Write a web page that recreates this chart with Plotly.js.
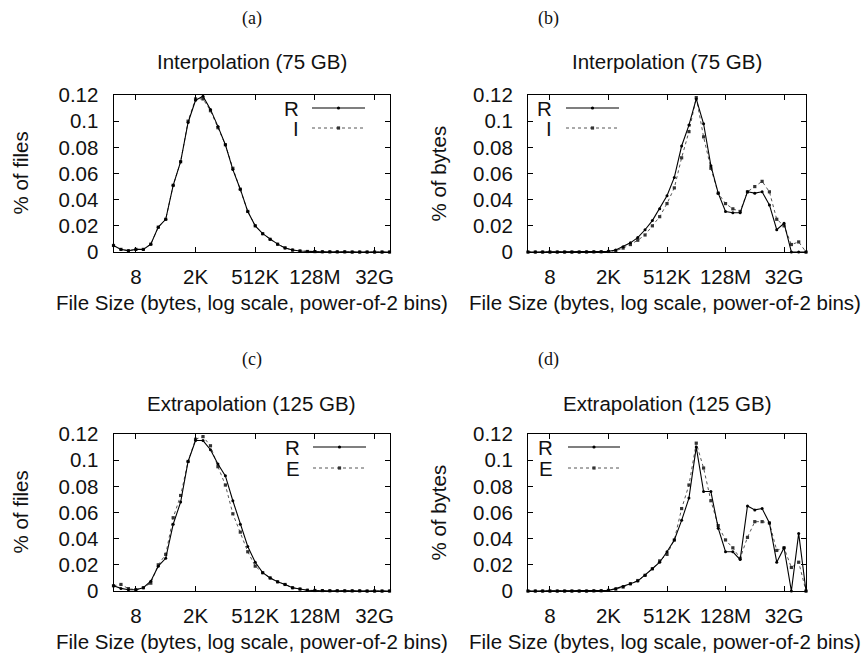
<!DOCTYPE html>
<html><head><meta charset="utf-8">
<script src="https://cdn.plot.ly/plotly-3.0.1.min.js"></script>
<style>html,body{margin:0;padding:0;background:#fff}</style>
</head><body><div id="chart" style="width:865px;height:656px"></div>
<script>
// bin index = log2(file size)
const binsLeft = [0,1,2,3,4,5,6,7,8,9,10,11,12,13,14,15,16,17,18,19,20,21,22,23,24,25,26,27,28,29,30,31,32,33,34,35,36,37];
const binsRight = [0,1,2,3,4,5,6,7,8,9,10,11,12,13,14,15,16,17,18,19,20,21,22,23,24,25,26,27,28,29,30,31,32,33,34,35,36,37,38];
const tickBins = [3,11,19,27,35];
const tickLabels = ["8","2K","512K","128M","32G"];
const yTickVals = [0,0.02,0.04,0.06,0.08,0.1,0.12];
const yTickText = ["0","0.02","0.04","0.06","0.08","0.1","0.12"];

// (a) Interpolation, % of files
const aR = [0.005,0.002,0.001,0.002,0.002,0.006,0.019,0.025,0.051,0.069,0.099,0.116,0.119,0.109,0.096,0.082,0.063,0.048,0.031,0.020,0.014,0.0097,0.006,0.003,0.0015,0.0008,0.0004,0.0003,0.0002,0.0001,0.0001,0.0001,0,0,0,0,0,0];
const aI = [0.005,0.002,0.001,0.002,0.002,0.006,0.019,0.025,0.051,0.069,0.100,0.117,0.117,0.108,0.095,0.082,0.064,0.048,0.031,0.020,0.014,0.0097,0.006,0.0032,0.0015,0.0008,0.0004,0.0003,0.0002,0.0001,0.0001,0.0001,0,0,0,0,0,0];
// (b) Interpolation, % of bytes
const bR = [0,0,0,0,0,0,0,0,0.0001,0.0001,0.0002,0.0005,0.0015,0.004,0.007,0.011,0.017,0.024,0.033,0.043,0.057,0.081,0.097,0.117,0.098,0.066,0.045,0.031,0.030,0.030,0.046,0.045,0.046,0.036,0.017,0.022,0,0,0];
const bI = [0,0,0,0,0,0,0,0,0,0.0001,0.0002,0.0004,0.001,0.003,0.0057,0.009,0.013,0.020,0.027,0.037,0.049,0.072,0.092,0.118,0.088,0.064,0.045,0.037,0.033,0.031,0.046,0.050,0.054,0.046,0.025,0.020,0.0057,0.0077,0];
// (c) Extrapolation, % of files
const cR = [0.004,0.002,0.001,0.001,0.0025,0.0075,0.019,0.025,0.051,0.068,0.099,0.115,0.115,0.108,0.097,0.088,0.069,0.051,0.034,0.022,0.014,0.010,0.007,0.005,0.0025,0.0015,0.0006,0.0004,0.0003,0.0002,0.0002,0.0001,0.0001,0.0001,0,0,0,0];
const cE = [0.004,0.005,0.0018,0.001,0.0025,0.006,0.020,0.028,0.056,0.073,0.099,0.116,0.118,0.111,0.095,0.081,0.059,0.045,0.030,0.019,0.014,0.010,0.007,0.005,0.0025,0.0015,0.0006,0.0004,0.0003,0.0002,0.0002,0.0001,0.0001,0.0001,0,0,0,0];
// (d) Extrapolation, % of bytes
const dR = [0,0,0,0,0,0,0,0,0,0.0001,0.0002,0.0005,0.0018,0.0035,0.0056,0.0076,0.012,0.017,0.022,0.030,0.039,0.054,0.071,0.110,0.076,0.076,0.048,0.030,0.030,0.024,0.065,0.062,0.063,0.052,0.022,0.033,0,0.044,0];
const dE = [0,0,0,0,0,0,0,0,0,0.0001,0.0002,0.0005,0.0015,0.003,0.0055,0.008,0.012,0.017,0.023,0.028,0.039,0.063,0.081,0.113,0.094,0.069,0.050,0.039,0.033,0.025,0.041,0.053,0.053,0.052,0.031,0.033,0.018,0.022,0];

const W = 865, H = 656;
const px = v => v / W, py = v => 1 - v / H;
const SANS = 'Liberation Sans, Arial, sans-serif';
const SERIF = 'Liberation Serif, DejaVu Serif, serif';
const FS = 20.5;
const INK = '#111';

function solid(x, y, xa, ya) {
  return {x, y, xaxis: xa, yaxis: ya, type: 'scatter', mode: 'lines+markers', cliponaxis: false,
    line: {color: '#000', width: 1.1}, marker: {symbol: 'circle', size: 3, color: '#000'}, showlegend: false};
}
function dotted(x, y, xa, ya) {
  return {x, y, xaxis: xa, yaxis: ya, type: 'scatter', mode: 'lines+markers', cliponaxis: false,
    line: {color: '#555', width: 1, dash: 'dot'}, marker: {symbol: 'square', size: 3.2, color: '#333'}, showlegend: false};
}

const data = [
  dotted(binsLeft, aI, 'x', 'y'), solid(binsLeft, aR, 'x', 'y'),
  dotted(binsRight, bI, 'x2', 'y2'), solid(binsRight, bR, 'x2', 'y2'),
  dotted(binsLeft, cE, 'x3', 'y3'), solid(binsLeft, cR, 'x3', 'y3'),
  dotted(binsRight, dE, 'x4', 'y4'), solid(binsRight, dR, 'x4', 'y4')
];

function xAxis(domain, maxBin, anchor) {
  return {domain, anchor, range: [0, maxBin], tickmode: 'array', tickvals: tickBins, ticktext: tickLabels,
    showline: true, linecolor: '#000', linewidth: 1, mirror: 'ticks', ticks: 'inside', ticklen: 5, tickcolor: '#000',
    showgrid: false, zeroline: false, ticklabelstandoff: 6, tickfont: {family: SANS, size: FS, color: INK}};
}
function yAxis(domain, anchor) {
  return {domain, anchor, range: [0, 0.12], tickmode: 'array', tickvals: yTickVals, ticktext: yTickText,
    showline: true, linecolor: '#000', linewidth: 1, mirror: 'ticks', ticks: 'inside', ticklen: 5, tickcolor: '#000',
    showgrid: false, zeroline: false, ticklabelstandoff: 10, tickfont: {family: SANS, size: FS, color: INK}};
}

const L = [113.5, 389.5], R = [528, 806];
const TOP = [95, 252], BOT = [434, 591];
const dom = p => [px(p[0]), px(p[1])];
const vdom = p => [py(p[1]), py(p[0])];

const ann = [];
function txt(text, x, y, opts) {
  ann.push(Object.assign({text, x: px(x), y: py(y), xref: 'paper', yref: 'paper', showarrow: false,
    xanchor: 'center', yanchor: 'middle', font: {family: SANS, size: FS, color: INK}}, opts || {}));
}
const shapes = [];
function legendRow(label, textRight, x0, x1, y, isSolid) {
  txt(label, textRight, y, {xanchor: 'right', height: 18, borderpad: 0});
  shapes.push({type: 'line', xref: 'paper', yref: 'paper', x0: px(x0), x1: px(x1), y0: py(y), y1: py(y),
    line: isSolid ? {color: '#000', width: 1.1} : {color: '#555', width: 1, dash: 'dot'}});
  const m = (x0 + x1) / 2;
  shapes.push({type: isSolid ? 'circle' : 'rect', xref: 'paper', yref: 'paper',
    x0: px(m - 1.6), x1: px(m + 1.6), y0: py(y - 1.6), y1: py(y + 1.6),
    fillcolor: isSolid ? '#000' : '#333', line: {width: 0}});
}

const cL = (L[0] + L[1]) / 2, cR2 = (R[0] + R[1]) / 2;
const serifFont = {family: SERIF, size: 18, color: INK};
// subfigure labels
txt('(a)', cL, 18, {font: serifFont});
txt('(b)', 548, 18, {font: serifFont});
txt('(c)', cL, 359, {font: serifFont});
txt('(d)', 548, 359, {font: serifFont});
// panel titles
txt('Interpolation (75 GB)', cL, 61);
txt('Interpolation (75 GB)', cR2, 61);
txt('Extrapolation (125 GB)', cL, 403);
txt('Extrapolation (125 GB)', cR2, 403);
// x titles
const xt = 'File Size (bytes, log scale, power-of-2 bins)';
txt(xt, cL, 302); txt(xt, 665, 302); txt(xt, cL, 641); txt(xt, 665, 641);
// y titles
txt('% of files', 20, 173.5, {textangle: -90});
txt('% of bytes', 438, 173.5, {textangle: -90});
txt('% of files', 20, 512.5, {textangle: -90});
txt('% of bytes', 438, 512.5, {textangle: -90});
// legends
legendRow('R', 300, 312, 365, 108, true);
legendRow('I', 300, 312, 365, 128, false);
legendRow('R', 553, 566, 619, 108, true);
legendRow('I', 553, 566, 619, 128, false);
legendRow('R', 301, 313, 366, 447, true);
legendRow('E', 301, 313, 366, 468, false);
legendRow('R', 554, 568, 620, 447, true);
legendRow('E', 554, 568, 620, 468, false);

const layout = {
  width: W, height: H, margin: {l: 0, r: 0, t: 0, b: 0}, paper_bgcolor: '#fff', plot_bgcolor: '#fff',
  showlegend: false,
  xaxis: xAxis(dom(L), 37, 'y'), yaxis: yAxis(vdom(TOP), 'x'),
  xaxis2: xAxis(dom(R), 38, 'y2'), yaxis2: yAxis(vdom(TOP), 'x2'),
  xaxis3: xAxis(dom(L), 37, 'y3'), yaxis3: yAxis(vdom(BOT), 'x3'),
  xaxis4: xAxis(dom(R), 38, 'y4'), yaxis4: yAxis(vdom(BOT), 'x4'),
  annotations: ann, shapes
};
Plotly.newPlot('chart', data, layout, {displayModeBar: false, staticPlot: true});
</script></body></html>
